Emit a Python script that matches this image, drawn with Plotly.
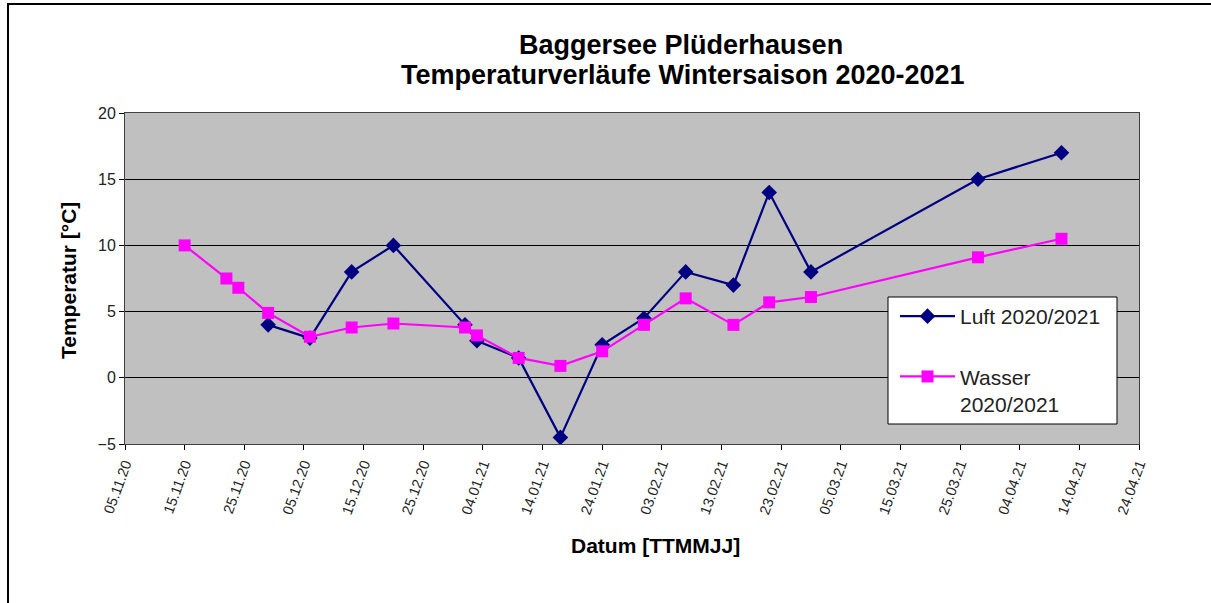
import plotly.graph_objects as go

# Data
luft_dates = ["2020-11-29", "2020-12-06", "2020-12-13", "2020-12-20", "2021-01-01", "2021-01-03",
              "2021-01-10", "2021-01-17", "2021-01-24", "2021-01-31", "2021-02-07", "2021-02-15",
              "2021-02-21", "2021-02-28", "2021-03-28", "2021-04-11"]
luft_values = [4.0, 3.0, 8.0, 10.0, 4.0, 2.8, 1.5, -4.5, 2.5, 4.5, 8.0, 7.0, 14.0, 8.0, 15.0, 17.0]

wasser_dates = ["2020-11-15", "2020-11-22", "2020-11-24", "2020-11-29", "2020-12-06", "2020-12-13",
                "2020-12-20", "2021-01-01", "2021-01-03", "2021-01-10", "2021-01-17", "2021-01-24",
                "2021-01-31", "2021-02-07", "2021-02-15", "2021-02-21", "2021-02-28", "2021-03-28",
                "2021-04-11"]
wasser_values = [10.0, 7.5, 6.8, 4.9, 3.1, 3.8, 4.1, 3.8, 3.2, 1.5, 0.9, 2.0, 4.0, 6.0, 4.0, 5.7,
                 6.1, 9.1, 10.5]

title_lines = ["Baggersee Plüderhausen", "Temperaturverläufe Wintersaison 2020-2021"]

FONT = "Liberation Sans, Arial, sans-serif"

fig = go.Figure()
fig.add_trace(go.Scatter(
    x=luft_dates, y=luft_values, mode="lines+markers", name="Luft 2020/2021",
    line=dict(color="#000080", width=2.2),
    marker=dict(symbol="diamond", size=12, color="#000080"),
    legendgroup="a",
))
fig.add_trace(go.Scatter(
    x=wasser_dates, y=wasser_values, mode="lines+markers", name="Wasser<br>2020/2021",
    line=dict(color="#FF00FF", width=2.2),
    marker=dict(symbol="square", size=12, color="#FF00FF"),
    legendgroup="b",
))

W, H = 1211, 603
L, R, T, B = 125, 72, 113, 159
pw, ph = W - L - R, H - T - B

def px_x(x):
    return (x - L) / pw

def px_y(y):
    return (H - B - y) / ph

# legend box
fig.add_shape(type="rect", xref="paper", yref="paper",
              x0=px_x(888), x1=px_x(1117), y0=px_y(424), y1=px_y(297),
              fillcolor="white", line=dict(color="black", width=1), layer="above")

# figure border (left & top)
fig.add_shape(type="line", xref="paper", yref="paper",
              x0=px_x(8), x1=px_x(8), y0=px_y(3), y1=px_y(603),
              line=dict(color="black", width=2))
fig.add_shape(type="line", xref="paper", yref="paper",
              x0=px_x(7), x1=px_x(1211), y0=px_y(4), y1=px_y(4),
              line=dict(color="black", width=2))

def ann(text, x, y, size, angle=0):
    return dict(text=text, xref="paper", yref="paper", x=px_x(x), y=px_y(y),
                xanchor="center", yanchor="middle", showarrow=False, textangle=angle,
                font=dict(size=size, family=FONT, color="black"))

annotations = [
    ann("<b>" + title_lines[0] + "</b>", 681, 45, 27),
    ann("<b>" + title_lines[1] + "</b>", 683, 75, 27),
    ann("<b>Datum [TTMMJJ]</b>", 655, 545, 21),
    ann("<b>Temperatur [°C]</b>", 68, 281, 21, -90),
]

fig.update_layout(
    width=W, height=H,
    margin=dict(l=L, r=R, t=T, b=B),
    paper_bgcolor="white", plot_bgcolor="#C0C0C0",
    font=dict(family=FONT, color="black"),
    showlegend=True,
    legend=dict(x=px_x(895), y=px_y(296), xanchor="left", yanchor="top",
                bgcolor="rgba(0,0,0,0)", borderwidth=0, valign="top",
                font=dict(size=21, family=FONT, color="#222"),
                tracegroupgap=30, itemwidth=55),
    annotations=annotations,
)

fig.update_xaxes(
    type="date", range=["2020-11-05", "2021-04-24"],
    tick0="2020-11-05", dtick=10 * 86400000, tickformat="%d.%m.%y",
    tickangle=-70, ticks="outside", ticklen=5, tickcolor="black",
    tickfont=dict(size=14.5, family=FONT, color="#222"),
    showgrid=False, showline=True, linecolor="#404040", linewidth=1, mirror=True,
    zeroline=False,
)
fig.update_yaxes(
    range=[-5, 20], tick0=-5, dtick=5,
    ticks="outside", ticklen=5, tickcolor="black",
    tickfont=dict(size=16, family=FONT, color="#222"),
    showgrid=True, gridcolor="black", gridwidth=1,
    zeroline=True, zerolinecolor="black", zerolinewidth=1,
    showline=True, linecolor="#404040", linewidth=1, mirror=True,
)

fig.write_html("out.html", config={"displayModeBar": False},
               post_script="document.body.style.margin='0';")
